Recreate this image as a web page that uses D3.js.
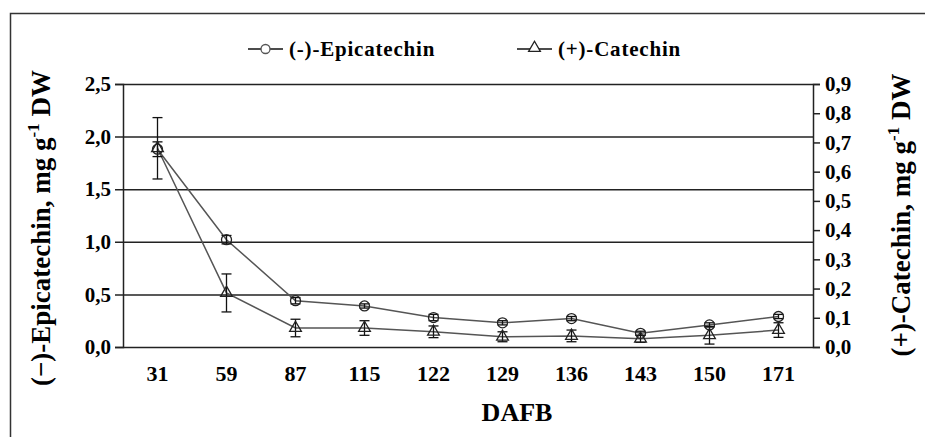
<!DOCTYPE html>
<html>
<head>
<meta charset="utf-8">
<script src="https://cdn.jsdelivr.net/npm/d3@7"></script>
<style>
  body { margin: 0; background: #fff; }
  text { font-family: "Liberation Serif", "Times New Roman", serif; font-weight: bold; fill: #000; }
</style>
</head>
<body>
<div id="chart"></div>
<script>
const categories = ["31", "59", "87", "115", "122", "129", "136", "143", "150", "171"];
const epicatechin = [1.88, 1.02, 0.44, 0.39, 0.28, 0.23, 0.27, 0.13, 0.21, 0.29];
const epicatechinErr = [0.07, 0.04, 0.03, 0.02, 0.03, 0.02, 0.02, 0.02, 0.02, 0.02];
const catechin = [0.68, 0.185, 0.065, 0.065, 0.052, 0.035, 0.038, 0.028, 0.04, 0.058];
const catechinErr = [0.105, 0.065, 0.03, 0.025, 0.02, 0.017, 0.02, 0.012, 0.03, 0.025];
const leftTicks = [0, 0.5, 1.0, 1.5, 2.0, 2.5];
const rightTicks = [0, 0.1, 0.2, 0.3, 0.4, 0.5, 0.6, 0.7, 0.8, 0.9];

const width = 925, height = 437;
const margin = { top: 84, right: 112, bottom: 90, left: 123 };
const innerW = width - margin.left - margin.right;
const innerH = height - margin.top - margin.bottom;
const fmt = d => d3.format(".1f")(d).replace(".", ",");

const svg = d3.select("#chart").append("svg")
    .attr("width", width)
    .attr("height", height);

// outer frame (runs past the image on right/bottom)
svg.append("rect")
    .attr("x", 10.5).attr("y", 13.5)
    .attr("width", 940).attr("height", 460)
    .attr("fill", "none")
    .attr("stroke", "#333")
    .attr("stroke-width", 1.5);

const g = svg.append("g")
    .attr("transform", `translate(${margin.left},${margin.top})`);

const x = d3.scaleBand().domain(categories).range([0, innerW]);
const yL = d3.scaleLinear().domain([0, 2.5]).range([innerH, 0]);
const yR = d3.scaleLinear().domain([0, 0.9]).range([innerH, 0]);

// gridlines + left ticks
g.append("g")
    .call(d3.axisLeft(yL).tickValues(leftTicks).tickSize(8).tickFormat(fmt))
    .call(a => a.select(".domain").attr("stroke", "#222").attr("stroke-width", 1.5))
    .call(a => a.selectAll(".tick line").attr("stroke", "#222").attr("stroke-width", 1.5)
        .attr("x1", innerW).attr("x2", -8))
    .call(a => a.selectAll(".tick text").attr("x", -12).style("font-size", "21px"));

// right axis
g.append("g")
    .attr("transform", `translate(${innerW},0)`)
    .call(d3.axisRight(yR).tickValues(rightTicks).tickSize(7).tickFormat(fmt))
    .call(a => a.select(".domain").attr("stroke", "#222").attr("stroke-width", 1.5))
    .call(a => a.selectAll(".tick line").attr("stroke", "#222").attr("stroke-width", 1.5))
    .call(a => a.selectAll(".tick text").attr("x", 12).style("font-size", "21px"));

// x axis labels
g.append("g")
    .attr("transform", `translate(0,${innerH})`)
    .call(d3.axisBottom(x).tickSize(0).tickPadding(18))
    .call(a => a.select(".domain").remove())
    .call(a => a.selectAll(".tick text").style("font-size", "22px"));

const cx = d => x(d) + x.bandwidth() / 2;

// series lines
const lineL = d3.line().x((d, i) => cx(categories[i])).y(d => yL(d));
const lineR = d3.line().x((d, i) => cx(categories[i])).y(d => yR(d));

g.append("path").datum(epicatechin).attr("d", lineL)
    .attr("fill", "none").attr("stroke", "#555").attr("stroke-width", 1.5);
g.append("path").datum(catechin).attr("d", lineR)
    .attr("fill", "none").attr("stroke", "#555").attr("stroke-width", 1.5);

function errorBars(vals, errs, y) {
    const eb = g.append("g").selectAll("g").data(vals).enter().append("g");
    eb.append("line")
        .attr("x1", (d, i) => cx(categories[i])).attr("x2", (d, i) => cx(categories[i]))
        .attr("y1", (d, i) => y(d + errs[i])).attr("y2", (d, i) => y(Math.max(0, d - errs[i])))
        .attr("stroke", "#111").attr("stroke-width", 1.3);
    [1, -1].forEach(s => {
        eb.append("line")
            .attr("x1", (d, i) => cx(categories[i]) - 5).attr("x2", (d, i) => cx(categories[i]) + 5)
            .attr("y1", (d, i) => y(Math.max(0, d + s * errs[i])))
            .attr("y2", (d, i) => y(Math.max(0, d + s * errs[i])))
            .attr("stroke", "#111").attr("stroke-width", 1.3);
    });
}

errorBars(catechin, catechinErr, yR);
errorBars(epicatechin, epicatechinErr, yL);

const tri = d3.symbol().type(d3.symbolTriangle).size(60);

g.append("g").selectAll("path").data(catechin).enter().append("path")
    .attr("d", tri)
    .attr("transform", (d, i) => `translate(${cx(categories[i])},${yR(d)})`)
    .attr("fill", "none").attr("stroke", "#222").attr("stroke-width", 1.3);

g.append("g").selectAll("circle").data(epicatechin).enter().append("circle")
    .attr("cx", (d, i) => cx(categories[i])).attr("cy", d => yL(d))
    .attr("r", 5)
    .attr("fill", "none").attr("stroke", "#222").attr("stroke-width", 1.3);

// legend
const legend = svg.append("g");
const items = [
    { label: "(-)-Epicatechin", x: 248, type: "circle" },
    { label: "(+)-Catechin", x: 517, type: "triangle" }
];
items.forEach(it => {
    const lg = legend.append("g").attr("transform", `translate(${it.x},49)`);
    lg.append("line").attr("x1", 0).attr("x2", 35).attr("stroke", "#111").attr("stroke-width", 1.5);
    if (it.type === "circle") {
        lg.append("circle").attr("cx", 17.5).attr("r", 4.5)
            .attr("fill", "#fff").attr("stroke", "#555").attr("stroke-width", 1.3);
    } else {
        lg.append("path").attr("d", tri).attr("transform", "translate(17.5,-1)")
            .attr("fill", "#fff").attr("stroke", "#222").attr("stroke-width", 1.3);
    }
    lg.append("text").attr("x", 41).attr("y", 7)
        .style("font-size", "21px").style("letter-spacing", "0.8px")
        .text(it.label);
});

// axis titles
svg.append("text")
    .attr("x", 517).attr("y", 421)
    .attr("text-anchor", "middle")
    .style("font-size", "26px")
    .text("DAFB");

function yTitle(name, tx, ty) {
    const t = svg.append("text")
        .attr("transform", `translate(${tx},${ty}) rotate(-90)`)
        .attr("text-anchor", "middle")
        .style("font-size", "27px");
    t.append("tspan").text(name + ", mg g");
    t.append("tspan").attr("dy", -11).style("font-size", "17px").text("-1");
    t.append("tspan").attr("dy", 11).text(" DW");
}
yTitle("(\u2212)-Epicatechin", 50, 228);
yTitle("(+)-Catechin", 910, 215);
</script>
</body>
</html>
